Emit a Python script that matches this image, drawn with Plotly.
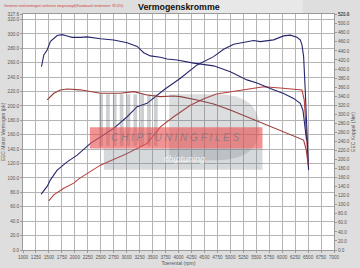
import plotly.graph_objects as go

# ---- data ----
rpm_tuned_tq = [1357, 1401, 1466, 1530, 1659, 1756, 1852, 1948, 2108, 2238, 2494, 2750, 3009, 3202, 3329, 3458,
                3651, 3780, 3972, 4292, 4678, 4999, 5321, 5514, 5771, 6027, 6220, 6349, 6401, 6445, 6470]
tuned_torque = [405, 431, 442, 461, 474, 476, 473, 470, 470, 471, 467, 464, 458, 450, 436, 429,
                426, 422, 420, 413, 407, 394, 376, 369, 357, 346, 335, 324, 309, 272, 243]

rpm_tuned_pw = [1351, 1466, 1530, 1659, 1852, 2045, 2301, 2494, 2750, 3009, 3202, 3394, 3587, 3714, 4036, 4358,
                4678, 4871, 5064, 5321, 5449, 5578, 5834, 6027, 6156, 6285, 6349, 6382, 6414, 6445, 6474, 6509]
tuned_power = [77.5, 88.2, 97.4, 110.8, 122.4, 131.7, 148, 157.2, 168.8, 185, 198.9, 203.6, 215.2, 222.1, 238.4, 256.9,
               268.4, 278.7, 285.7, 288.5, 290.7, 289.3, 291.7, 297.2, 298.2, 295.4, 291.7, 284.7, 268.4, 222, 166, 111]

rpm_stock_tq = [1466, 1594, 1723, 1852, 2100, 2494, 2880, 3137, 3394, 3651, 3907, 4036, 4358, 4678, 4999, 5321,
                5642, 5964, 6285, 6414, 6465, 6503]
stock_torque = [331.6, 346.4, 353.7, 356, 354, 346.4, 346.4, 350, 342.7, 338.9, 340.5, 338.9, 331.6, 322.7, 309.4, 294.6,
                280, 265.3, 250.3, 243, 220.8, 188]

rpm_stock_pw = [1497, 1594, 1787, 1979, 2076, 2494, 3009, 3265, 3394, 3651, 3907, 4229, 4479, 4730, 4999, 5321,
                5642, 5964, 6253, 6382, 6426, 6465, 6510]
stock_power = [68.2, 76.5, 85.8, 92.8, 98.7, 117.8, 134, 143.3, 148, 171, 185, 201, 209.6, 216.5, 219.7, 223.5,
               226.7, 224.9, 222.8, 222.1, 208, 166.5, 112]

x_ticks = list(range(1000, 7001, 250))
left_ticks = [float(v) for v in range(0, 321, 20)] + [327.6]
right_ticks = [float(v) for v in range(0, 521, 20)] + [521.6]

BLUE = "#26266e"
RED = "#b8403f"
RED_TQ = "#9c3a38"

fig = go.Figure()
fig.add_trace(go.Scatter(x=rpm_stock_pw, y=stock_power, mode="lines", line=dict(color=RED, width=1.1),
                         showlegend=False, hoverinfo="skip"))
fig.add_trace(go.Scatter(x=rpm_tuned_pw, y=tuned_power, mode="lines", line=dict(color=BLUE, width=1.1),
                         showlegend=False, hoverinfo="skip"))
fig.add_trace(go.Scatter(x=rpm_stock_tq, y=stock_torque, mode="lines", line=dict(color=RED_TQ, width=1.1),
                         yaxis="y2", showlegend=False, hoverinfo="skip"))
fig.add_trace(go.Scatter(x=rpm_tuned_tq, y=tuned_torque, mode="lines", line=dict(color=BLUE, width=1.1),
                         yaxis="y2", showlegend=False, hoverinfo="skip"))

tickfont = dict(family="Arial, Liberation Sans, sans-serif", size=4.6, color="#555555")

fig.update_layout(
    width=360, height=268,
    margin=dict(l=23, r=26, t=14, b=18, pad=0),
    paper_bgcolor="#dedede",
    plot_bgcolor="#ffffff",
    font=dict(family="Arial, Liberation Sans, sans-serif"),
    xaxis=dict(range=[1000, 7000], tickvals=x_ticks, ticktext=[str(v) for v in x_ticks],
               tickangle=0, automargin=False,
               tickfont=tickfont, showgrid=True, gridcolor="#b4b4b4", gridwidth=0.8,
               showline=True, linecolor="#9a9a9a", linewidth=1, mirror=True,
               ticks="outside", ticklen=2, tickcolor="#9a9a9a", zeroline=False,
               title=dict(text="Toerental (rpm)", font=dict(size=5, color="#555555"), standoff=2)),
    yaxis=dict(range=[0, 327.6], tickvals=left_ticks, ticktext=[f"{v:.1f}" for v in left_ticks],
               automargin=False,
               tickfont=tickfont, showgrid=True, gridcolor="#b4b4b4", gridwidth=0.8,
               showline=True, linecolor="#9a9a9a", linewidth=1, mirror=True,
               ticks="outside", ticklen=2, tickcolor="#9a9a9a", zeroline=False,
               title=dict(text="EEC Motor Vermogen (pk)", font=dict(size=5, color="#555555"), standoff=2)),
    yaxis2=dict(range=[0, 521.6], tickvals=right_ticks, ticktext=[f"{v:.1f}" for v in right_ticks],
                automargin=False,
                tickfont=tickfont, overlaying="y", side="right", showgrid=False,
                ticks="outside", ticklen=2, tickcolor="#9a9a9a", zeroline=False,
                title=dict(text="EEC Koppel (Nm)", font=dict(size=5, color="#555555"), standoff=2)),
)

# title band + titles
fig.add_shape(type="rect", xref="paper", yref="paper", x0=0.50, x1=0.90, y0=1.0, y1=1.06,
              fillcolor="#e8e8e8", line=dict(width=0), layer="below")
fig.add_annotation(text="<b>Vermogenskromme</b>", xref="paper", yref="paper", x=0.5, y=1.0,
                   xanchor="center", yanchor="bottom", yshift=0, showarrow=False,
                   font=dict(size=8.8, color="#111111", family="Arial, Liberation Sans, sans-serif"))
fig.add_annotation(text="Gemeten wielvermogen verliezen toegevoegd(Standaard rendement: 92.0%)",
                   xref="paper", yref="paper", x=-0.068, y=1.033, xanchor="left", yanchor="middle",
                   showarrow=False, font=dict(size=3.5, color="#d04040"))

# watermark (decorative logo approximation)
for i in range(9):
    x0 = 0.245 + i * 0.022
    fig.add_shape(type="rect", xref="paper", yref="paper", x0=x0, x1=x0 + 0.012, y0=0.44, y1=0.66,
                  fillcolor="rgba(90,100,110,0.30)", line=dict(width=0), layer="above")
fig.add_shape(type="path", xref="paper", yref="paper",
              path="M 0.47 0.66 L 0.62 0.66 Q 0.76 0.66 0.76 0.52 Q 0.76 0.38 0.62 0.38 L 0.47 0.38 Z",
              fillcolor="rgba(90,100,110,0.22)", line=dict(width=0), layer="above")
fig.add_shape(type="rect", xref="paper", yref="paper", x0=0.26, x1=0.77, y0=0.34, y1=0.43,
              fillcolor="rgba(120,130,140,0.30)", line=dict(width=0), layer="above")
fig.add_shape(type="rect", xref="paper", yref="paper", x0=0.215, x1=0.77, y0=0.43, y1=0.52,
              fillcolor="rgba(232,80,80,0.62)", line=dict(width=0), layer="above")
fig.add_annotation(text="<i>C H I P T U N I N G F I L E S</i>", xref="paper", yref="paper", x=0.49, y=0.475,
                   xanchor="center", yanchor="middle", showarrow=False,
                   font=dict(size=10, color="rgba(120,120,130,0.75)"))
fig.add_annotation(text="<i>chiptuning</i>", xref="paper", yref="paper", x=0.52, y=0.385,
                   xanchor="center", yanchor="middle", showarrow=False,
                   font=dict(size=9, color="rgba(255,255,255,0.8)"))

fig.write_html("out.html")
